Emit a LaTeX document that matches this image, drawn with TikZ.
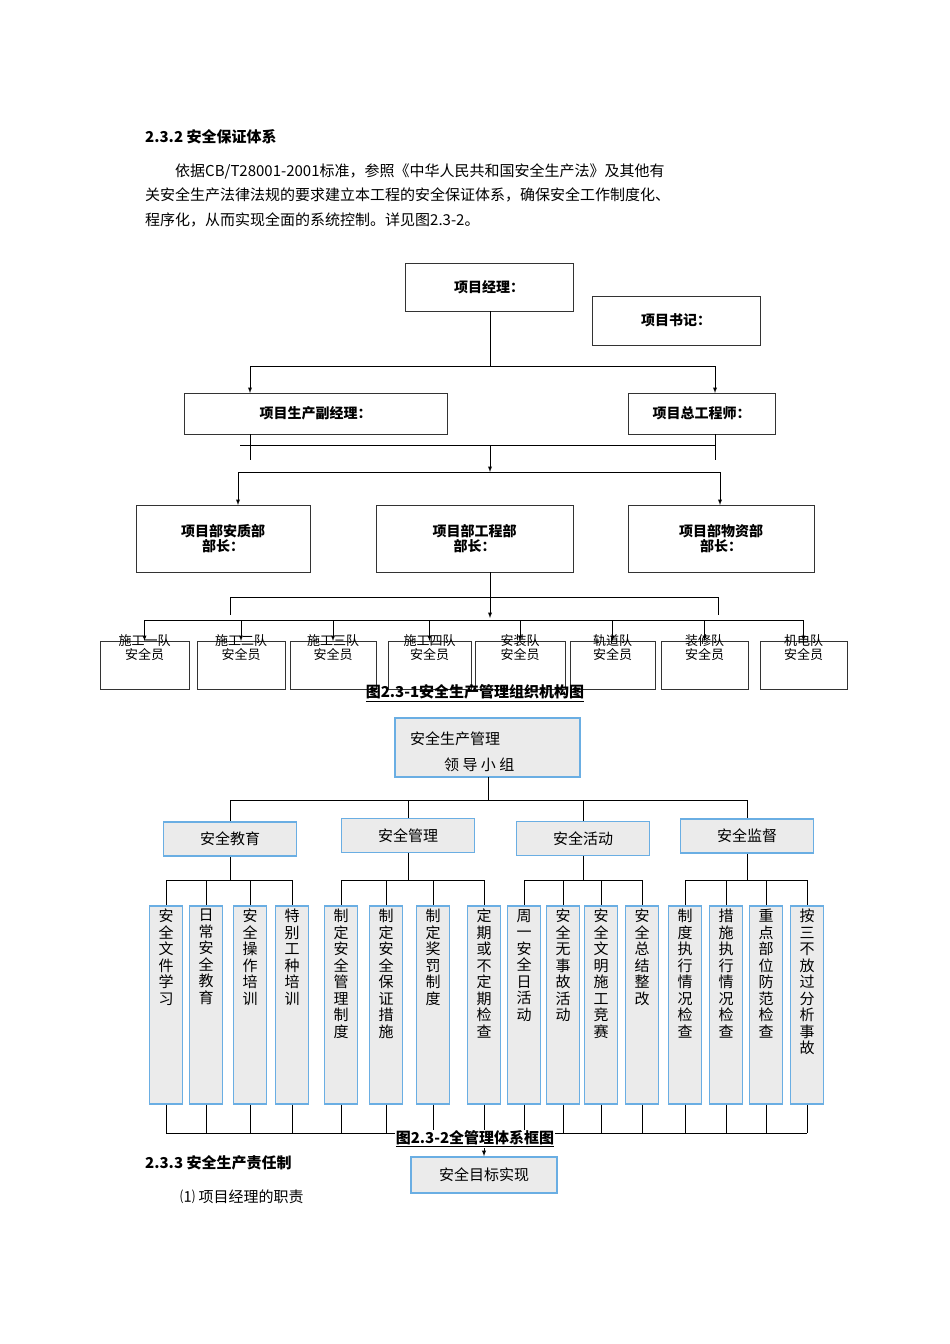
\documentclass[tikz,border=0pt]{standalone}
\usepackage{fontspec}
\setmainfont{Noto Sans CJK SC}
\newfontfamily\cjkb[BoldFont={Noto Sans CJK SC Bold}]{Noto Sans CJK SC}
\begin{document}
\begin{tikzpicture}[x=1pt,y=-1pt,
  wbox/.style={draw=black!80,line width=0.8pt,inner sep=0pt},
  tbox/.style={draw=cyan!70!blue!60,fill=black!8,line width=1.6pt,inner sep=0pt},
  ln/.style={line width=0.9pt},
  ar/.style={line width=0.9pt,-latex},
  txt/.style={font=\fontsize{15}{17}\selectfont,anchor=west,inner sep=0pt},
  vt/.style={font=\fontsize{15}{16.5}\selectfont,align=center,anchor=north,inner sep=0pt}]
\useasboundingbox (0,0) rectangle (950,1344);
% text
\node[txt,font=\fontsize{15}{17}\selectfont\bfseries] (h1) at (145,137) {2.3.2 安全保证体系};
\node[txt] (p1) at (175,171) {依据CB/T28001-2001标准，参照《中华人民共和国安全生产法》及其他有};
\node[txt] (p2) at (145,195) {关安全生产法律法规的要求建立本工程的安全保证体系，确保安全工作制度化、};
\node[txt] (p3) at (145,220) {程序化，从而实现全面的系统控制。详见图2.3-2。};
% top chart
\node[wbox,minimum width=168,minimum height=48,font=\fontsize{14}{16}\selectfont\bfseries] (pm) at (489,287) {项目经理：};
\node[wbox,fill=white,minimum width=168,minimum height=49,font=\fontsize{14}{16}\selectfont\bfseries] (ps) at (676,320.5) {项目书记：};
\node[wbox,minimum width=263,minimum height=41,font=\fontsize{14}{16}\selectfont\bfseries] (vp) at (315.5,413.5) {项目生产副经理：};
\node[wbox,minimum width=147,minimum height=41,font=\fontsize{14}{16}\selectfont\bfseries] (ce) at (701.5,413.5) {项目总工程师：};
\coordinate (j1) at (490,366);
\draw[ln] (490,311) -- (j1);
\draw[ln] (250,366) -- (715,366);
\draw[ar] (250,366) -- (250,393);
\draw[ar] (715,366) -- (715,393);
\draw[ln] (250,434) -- (250,460);
\draw[ln] (715,434) -- (715,460);
\draw[ln] (240,445) -- (715,445);
\draw[ar] (490,445) -- (490,472);
\draw[ln] (238,472) -- (720,472);
\draw[ar] (238,472) -- (238,505);
\draw[ar] (720,472) -- (720,505);
\node[wbox,minimum width=174,minimum height=67,align=center,font=\fontsize{14}{15}\selectfont\bfseries] (d1) at (223,538.5) {项目部安质部\\部长：};
\node[wbox,minimum width=197,minimum height=67,align=center,font=\fontsize{14}{15}\selectfont\bfseries] (d2) at (474.5,538.5) {项目部工程部\\部长：};
\node[wbox,minimum width=186,minimum height=67,align=center,font=\fontsize{14}{15}\selectfont\bfseries] (d3) at (721,538.5) {项目部物资部\\部长：};
\draw[ar] (490,572) -- (490,618);
\draw[ln] (230,597) -- (718,597);
\draw[ln] (230,597) -- (230,615);
\draw[ln] (718,597) -- (718,615);
\draw[ln] (144,620) -- (804,620);
\foreach \a/\b/\t [count=\i] in {100/189/施工一队,197/285/施工二队,290/376/施工三队,388/471/施工四队,475/565/安装队,570/655/轨道队,661/748/装修队,760/847/机电队}{
  \node[wbox,minimum width={\b-\a},minimum height=48,anchor=north,font=\fontsize{13}{14}\selectfont,align=center] (s\i) at ({(\a+\b)/2},641) {\\[-14pt]\t\\安全员\\[12pt]};
  \draw[ar] ({(\a+\b)/2},620) -- (s\i.north);
}
\node[font=\fontsize{15}{17}\selectfont\bfseries,inner sep=1pt] (c1) at (475,693) {\underline{图2.3-1安全生产管理组织机构图}};
% bottom chart
\node[tbox,minimum width=185,minimum height=59] (lg) at (487.5,747.5) {};
\node[txt] (lgt1) at (410,739) {安全生产管理};
\node[txt] (lgt2) at (444,765) {领\ 导\ 小\ 组};
\draw[ln] (488,777) -- (488,800);
\draw[ln] (230,800) -- (747,800);
\foreach \x/\y/\t/\c [count=\i] in {230/839/安全教育/230,408/835.5/安全管理/408,583/838.5/安全活动/583,747/836/安全监督/747}{
  \draw[ln] (\c,800) -- (\c,\y-17);
  \node[tbox,minimum width=133,minimum height=34,font=\fontsize{15}{17}\selectfont] (g\i) at (\x,\y) {\t};
  \draw[ln] (g\i.south) -- (\c,880);
}
\draw[ln] (166,880) -- (292,880);
\draw[ln] (341,880) -- (484,880);
\draw[ln] (524,880) -- (642,880);
\draw[ln] (685,880) -- (807,880);
\foreach \x/\t [count=\i] in {166/安\\全\\文\\件\\学\\习, 206/日\\常\\安\\全\\教\\育, 250/安\\全\\操\\作\\培\\训, 292/特\\别\\工\\种\\培\\训, 341/制\\定\\安\\全\\管\\理\\制\\度, 386/制\\定\\安\\全\\保\\证\\措\\施, 433/制\\定\\奖\\罚\\制\\度, 484/定\\期\\或\\不\\定\\期\\检\\查, 524/周\\一\\安\\全\\日\\活\\动, 563/安\\全\\无\\事\\故\\活\\动, 601/安\\全\\文\\明\\施\\工\\竞\\赛, 642/安\\全\\总\\结\\整\\改, 685/制\\度\\执\\行\\情\\况\\检\\查, 726/措\\施\\执\\行\\情\\况\\检\\查, 766/重\\点\\部\\位\\防\\范\\检\\查, 807/按\\三\\不\\放\\过\\分\\析\\事\\故}{
  \node[tbox,minimum width=33,minimum height=198,anchor=north] (v\i) at (\x,905) {};
  \node[vt] (vt\i) at (\x,909) {\t};
  \draw[ln] (\x,880) -- (v\i.north);
  \draw[ln] (v\i.south) -- (\x,1133);
}
\draw[ln] (166,1133) -- (807,1133);
\node[tbox,minimum width=146,minimum height=36,font=\fontsize{15}{17}\selectfont] (goal) at (484,1175) {安全目标实现};
\draw[ar] (484,1133) -- (goal.north);
\node[font=\fontsize{15}{17}\selectfont\bfseries,inner sep=1pt,fill=white] (c2) at (475,1139) {\underline{图2.3-2全管理体系框图}};
\node[txt,font=\fontsize{15}{17}\selectfont\bfseries] (h2) at (145,1163) {2.3.3 安全生产责任制};
\node[txt] (p4) at (180,1197) {⑴ 项目经理的职责};
\end{tikzpicture}
\end{document}
